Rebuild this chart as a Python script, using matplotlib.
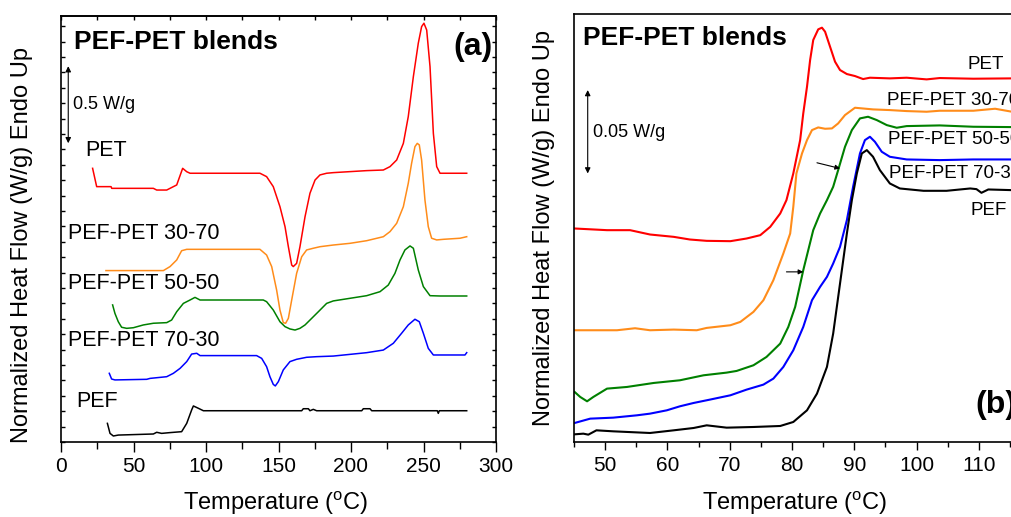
import matplotlib
matplotlib.use("Agg")
import matplotlib.pyplot as plt
from matplotlib.ticker import MultipleLocator, NullFormatter

plt.rcParams['font.family'] = ['Liberation Sans', 'DejaVu Sans']
plt.rcParams['mathtext.fontset'] = 'custom'
plt.rcParams['mathtext.rm'] = 'Liberation Sans'

# ---------------- Panel (a): full DSC scans, offset curves (W/g) ----------------
a_names = ["PET", "PEF-PET 30-70", "PEF-PET 50-50", "PEF-PET 70-30", "PEF"]
a_colors = ["#ff0000", "#ff8c1a", "#008000", "#0000ff", "#000000"]

a_pet_x = [21.8, 24.6, 34.5, 35.0, 63.7, 66.0, 72.9, 75.2, 79.8, 83.9, 86.7, 89.0, 137.2, 141.8,
           146.4, 151.0, 154.5, 156.8, 159.1, 160.2, 162.5, 164.8, 168.3, 171.7, 175.2, 178.6,
           183.2, 187.8, 210.8, 222.3, 226.9, 231.5, 236.1, 239.5, 243.0, 246.4, 248.7, 250.3,
           252.2, 254.5, 256.8, 259.1, 261.4, 279.8]
a_pet_y = [1.777, 1.658, 1.658, 1.647, 1.647, 1.636, 1.636, 1.647, 1.669, 1.777, 1.755, 1.745,
           1.745, 1.723, 1.658, 1.528, 1.398, 1.268, 1.149, 1.139, 1.160, 1.268, 1.463, 1.615,
           1.701, 1.734, 1.745, 1.749, 1.762, 1.766, 1.788, 1.831, 1.939, 2.113, 2.372, 2.589,
           2.697, 2.719, 2.675, 2.437, 2.004, 1.788, 1.745, 1.745]

a_3070_x = [31.0, 70.6, 75.2, 79.8, 83.2, 86.7, 137.2, 141.8, 145.3, 148.7, 151.0, 153.3, 154.9,
            156.8, 159.1, 162.5, 166.0, 169.4, 174.0, 178.6, 187.8, 199.3, 210.8, 222.3, 226.9,
            231.5, 236.1, 239.5, 241.8, 244.1, 245.7, 247.1, 248.7, 251.0, 253.3, 255.6, 259.1,
            263.7, 275.2, 279.8]
a_3070_y = [1.113, 1.113, 1.139, 1.182, 1.242, 1.251, 1.251, 1.214, 1.139, 0.987, 0.857, 0.775,
            0.771, 0.803, 0.922, 1.095, 1.203, 1.247, 1.258, 1.268, 1.279, 1.290, 1.307, 1.333,
            1.366, 1.420, 1.528, 1.680, 1.810, 1.918, 1.939, 1.929, 1.831, 1.571, 1.398, 1.323,
            1.312, 1.316, 1.323, 1.333]

a_5050_x = [35.6, 37.2, 39.5, 41.8, 45.3, 49.9, 56.8, 63.7, 72.9, 76.3, 79.8, 84.4, 89.0, 92.4,
            95.9, 139.5, 141.8, 146.4, 151.0, 154.5, 157.9, 161.4, 164.8, 168.3, 172.9, 177.5,
            183.2, 187.8, 199.3, 210.8, 220.0, 225.7, 230.3, 233.8, 237.2, 240.7, 243.0, 246.4,
            249.9, 254.5, 261.4, 279.8]
a_5050_y = [0.890, 0.835, 0.781, 0.745, 0.738, 0.742, 0.760, 0.771, 0.775, 0.792, 0.846, 0.900,
            0.922, 0.939, 0.922, 0.922, 0.911, 0.857, 0.781, 0.749, 0.734, 0.727, 0.738, 0.760,
            0.803, 0.846, 0.900, 0.916, 0.933, 0.950, 0.976, 1.019, 1.095, 1.182, 1.247, 1.273,
            1.258, 1.117, 1.009, 0.950, 0.948, 0.948]

a_7030_x = [33.3, 34.9, 37.2, 59.1, 61.4, 72.9, 77.5, 82.1, 86.7, 90.1, 93.6, 95.9, 134.9, 138.4,
            141.8, 144.1, 146.4, 147.8, 149.9, 153.3, 157.9, 162.5, 169.4, 176.3, 187.8, 210.8,
            222.3, 229.2, 234.9, 239.5, 244.1, 247.1, 249.9, 253.3, 256.8, 278.6, 279.8]
a_7030_y = [0.446, 0.409, 0.403, 0.407, 0.413, 0.424, 0.446, 0.478, 0.522, 0.571, 0.576, 0.561,
            0.561, 0.543, 0.489, 0.424, 0.374, 0.364, 0.392, 0.468, 0.522, 0.537, 0.550, 0.554,
            0.558, 0.580, 0.597, 0.641, 0.706, 0.760, 0.797, 0.781, 0.706, 0.608, 0.565, 0.565,
            0.580]

a_pef_x = [32.0, 33.8, 36.1, 39.5, 63.7, 66.0, 69.4, 75.2, 83.2, 86.7, 90.1, 91.3, 94.7, 98.2,
           166.0, 167.1, 170.6, 171.7, 174.0, 176.3, 207.4, 208.5, 213.1, 214.3, 259.5, 260.2,
           260.9, 279.8]
a_pef_y = [0.121, 0.056, 0.039, 0.045, 0.052, 0.063, 0.056, 0.061, 0.067, 0.121, 0.208, 0.234,
           0.219, 0.203, 0.203, 0.216, 0.216, 0.203, 0.212, 0.203, 0.203, 0.216, 0.216, 0.203,
           0.203, 0.186, 0.203, 0.203]

a_label_x = [16.6, 5.1, 5.1, 5.1, 10.3]
a_label_y = [1.892, 1.351, 1.026, 0.658, 0.262]

# ---------------- Panel (b): glass transition region (mW/g, offset) ----------------
b_pet_x = [45.1, 50.3, 54.0, 57.2, 61.0, 63.6, 66.3, 70.1, 72.7, 74.9, 76.5, 78.1, 79.1, 80.2,
           81.3, 81.8, 82.4, 82.9, 83.4, 84.2, 84.8, 85.3, 86.1, 86.9, 87.7, 88.8, 90.1, 91.4,
           92.5, 95.7, 98.4, 101.6, 103.7, 109.1, 115.3, 120.0]
b_pet_y = [128, 127, 127, 124.4, 123, 121.4, 120.6, 120.4, 122, 124, 129, 137, 145, 161, 181,
           197, 213, 229, 241, 247.4, 248.4, 246, 237, 228, 223, 220.6, 219.4, 217.6, 218.4,
           218, 218.4, 217.4, 218.2, 217.8, 218, 218]

b_3070_x = [45.1, 51.9, 54.8, 57.2, 61.0, 64.7, 66.3, 70.1, 71.7, 73.8, 75.4, 77.0, 78.6, 79.7,
            80.2, 80.7, 81.6, 82.4, 83.2, 84.2, 85.3, 86.4, 87.4, 88.5, 90.1, 93.0, 95.7, 98.4,
            101.6, 103.7, 109.1, 112.6, 115.3, 120.0]
b_3070_y = [67, 67, 68.2, 67, 67.4, 67, 68.4, 70, 72, 78, 85, 97, 113, 125, 141, 161, 173, 181,
            187, 188.6, 187.8, 188, 191, 196, 200.4, 199.4, 199, 198.4, 198, 198.6, 198.6, 199.8,
            198, 198]

b_5050_x = [45.1, 46.0, 47.1, 48.1, 50.3, 53.5, 57.8, 62.0, 65.8, 69.5, 71.1, 73.8, 75.9, 78.1,
            79.4, 80.5, 81.8, 82.6, 83.4, 84.5, 85.6, 86.6, 87.4, 88.5, 89.6, 90.9, 92.2, 93.6,
            95.2, 96.8, 98.4, 103.7, 109.1, 115.3, 120.0]
b_5050_y = [30, 27, 24.4, 27, 32, 33, 35.4, 37, 40, 41.6, 42.6, 46, 51, 59, 69, 81, 103, 115, 127,
            137, 145, 153, 163, 177, 187, 194, 195, 193, 190, 188.4, 189.4, 189.8, 189, 188.8, 189]

b_7030_x = [45.1, 47.6, 51.3, 55.1, 57.2, 59.9, 62.0, 64.2, 66.8, 70.1, 72.7, 75.4, 77.0, 78.6,
            80.2, 81.8, 83.2, 84.5, 85.6, 86.6, 87.7, 88.8, 89.8, 90.9, 91.7, 92.5, 93.3, 94.4,
            95.7, 98.4, 103.7, 109.1, 115.3, 120.0]
b_7030_y = [11.4, 14, 14.6, 16, 17, 19, 21.4, 23.4, 25.4, 28, 31.4, 34.4, 38, 45, 55, 69, 85, 93,
            99, 107, 117, 133, 153, 173, 181, 183, 180, 174, 171, 169.4, 169, 169.4, 169.4, 169.4]

b_pef_x = [45.1, 46.5, 47.3, 48.6, 51.3, 57.2, 61.0, 64.2, 66.3, 69.5, 73.8, 78.1, 80.2, 82.4,
           84.0, 85.6, 86.6, 87.7, 88.8, 89.6, 90.4, 91.2, 92.0, 93.0, 94.1, 95.7, 97.3, 101.1,
           104.8, 108.6, 109.6, 110.4, 111.5, 115.3, 120.0]
b_pef_y = [4.6, 5, 4.4, 7, 6.4, 5.4, 7, 8.4, 10, 8.6, 9, 9.6, 12, 19, 29, 45, 65, 95, 125, 145,
           161, 173, 175, 171, 163, 155, 152, 150.6, 150.6, 152, 151.6, 149.4, 151.4, 151, 151]

b_label_x = [108.2, 95.3, 95.4, 95.6, 108.6]
b_label_y = [226.4, 204.6, 181.4, 161.0, 138.6]

# ---------------- Figure ----------------
W, H = 1012, 517
fig = plt.figure(figsize=(W / 100, H / 100), dpi=100)

def box(l, t, r, b):
    return [l / W, 1 - b / H, (r - l) / W, (b - t) / H]

B_XMIN, B_XMAX = 45, 118
ax1 = fig.add_axes(box(61, 16, 496, 442))
ax2 = fig.add_axes(box(574, 14, 574 + (B_XMAX - B_XMIN) * 6.23, 442))

# Panel (a)
a_series = [(a_pet_x, a_pet_y), (a_3070_x, a_3070_y), (a_5050_x, a_5050_y),
            (a_7030_x, a_7030_y), (a_pef_x, a_pef_y)]
for (x, y), c in zip(a_series, a_colors):
    ax1.plot(x, y, color=c, lw=1.1)
for name, lx, ly in zip(a_names, a_label_x, a_label_y):
    ax1.text(lx, ly, name, fontsize=15.5, va='center', ha='left')

ax1.set_xlim(0, 300)
ax1.set_ylim(0, 2.766)
ax1.xaxis.set_major_locator(MultipleLocator(50))
ax1.xaxis.set_minor_locator(MultipleLocator(25))
ax1.yaxis.set_major_locator(MultipleLocator(0.1))
ax1.yaxis.set_major_formatter(NullFormatter())
ax1.tick_params(axis='x', which='major', direction='out', length=7, width=1, labelsize=15, pad=4)
ax1.tick_params(axis='x', which='minor', direction='out', length=5, width=1)
ax1.tick_params(axis='y', which='major', direction='in', length=3, width=1, left=True, right=True)
sec = ax1.secondary_xaxis('top')
sec.xaxis.set_major_locator(MultipleLocator(50))
sec.xaxis.set_minor_locator(MultipleLocator(25))
sec.tick_params(axis='x', which='both', direction='in', length=3, width=1, labeltop=False)
sec.xaxis.set_major_formatter(NullFormatter())
for s in ax1.spines.values():
    s.set_linewidth(1.2)
sec.spines['top'].set_linewidth(1.2)

ax1.text(9.0, 2.60, "PEF-PET blends", fontsize=19, fontweight='bold', va='center', ha='left')
ax1.text(298, 2.567, "(a)", fontsize=23, fontweight='bold', va='center', ha='right')
a_bar_x, a_bar_lo, a_bar_hi = 5.0, 1.94, 2.44
ax1.annotate('', xy=(a_bar_x, a_bar_hi), xytext=(a_bar_x, a_bar_lo),
             arrowprops=dict(arrowstyle='<|-|>', color='k', lw=0.8, mutation_scale=8,
                             shrinkA=0, shrinkB=0))
ax1.text(8.0, 2.19, "0.5 W/g", fontsize=13, va='center', ha='left')

# Panel (b)
b_series = [(b_pet_x, b_pet_y), (b_3070_x, b_3070_y), (b_5050_x, b_5050_y),
            (b_7030_x, b_7030_y), (b_pef_x, b_pef_y)]
for (x, y), c in zip(b_series, a_colors):
    ax2.plot(x, y, color=c, lw=1.5)
for name, lx, ly in zip(a_names, b_label_x, b_label_y):
    ax2.text(lx, ly, name, fontsize=13.5, va='center', ha='left')

ax2.set_xlim(B_XMIN, B_XMAX)
ax2.set_ylim(0, 256.6)
ax2.xaxis.set_major_locator(MultipleLocator(10))
ax2.xaxis.set_minor_locator(MultipleLocator(5))
ax2.set_yticks([])
ax2.tick_params(axis='x', which='major', direction='out', length=6, width=1, labelsize=15, pad=4)
ax2.tick_params(axis='x', which='minor', direction='out', length=3.5, width=1)
for s in ax2.spines.values():
    s.set_linewidth(1.2)

ax2.text(46.4, 242, "PEF-PET blends", fontsize=19, fontweight='bold', va='center', ha='left')
ax2.text(109.4, 22, "(b)", fontsize=23, fontweight='bold', va='center', ha='left')
b_bar_x, b_bar_lo, b_bar_hi = 47.2, 161, 211
ax2.annotate('', xy=(b_bar_x, b_bar_hi), xytext=(b_bar_x, b_bar_lo),
             arrowprops=dict(arrowstyle='<|-|>', color='k', lw=0.8, mutation_scale=8,
                             shrinkA=0, shrinkB=0))
ax2.text(48.0, 185.6, "0.05 W/g", fontsize=13, va='center', ha='left')
ax2.annotate('', xy=(87.7, 164), xytext=(84.0, 167.4),
             arrowprops=dict(arrowstyle='-|>', color='k', lw=0.8, mutation_scale=7,
                             shrinkA=0, shrinkB=0))
ax2.annotate('', xy=(81.8, 102), xytext=(79.1, 102),
             arrowprops=dict(arrowstyle='-|>', color='k', lw=0.8, mutation_scale=7,
                             shrinkA=0, shrinkB=0))

xlab = "Temperature ($^{\\mathrm{o}}$C)"
fig.text(276 / W, 1 - 503 / H, xlab, fontsize=17, ha='center', va='center')
fig.text(795 / W, 1 - 503 / H, xlab, fontsize=17, ha='center', va='center')

ylab = "Normalized Heat Flow (W/g) Endo Up"
fig.text(22.5 / W, 1 - 245 / H, ylab, rotation=90, fontsize=17, ha='center', va='center')
fig.text(544 / W, 1 - 228 / H, ylab, rotation=90, fontsize=17, ha='center', va='center')

fig.savefig("out.png", dpi=100)
